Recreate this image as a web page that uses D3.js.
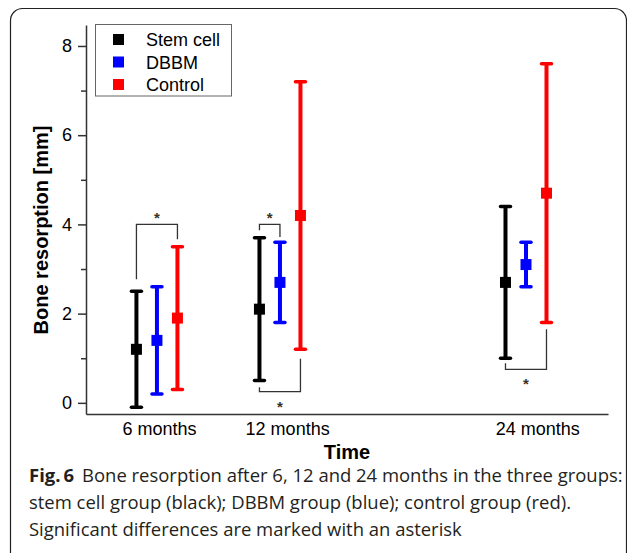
<!DOCTYPE html>
<html>
<head>
<meta charset="utf-8">
<script src="https://cdn.jsdelivr.net/npm/d3@7"></script>
<style>
  body { margin: 0; background: #fff; }
  svg { display: block; font-family: "Liberation Sans", Arial, sans-serif; }
</style>
</head>
<body>
<div id="chart"></div>
<script>
const width = 627, height = 553;

// data
const groups = ["Stem cell", "DBBM", "Control"];
const colors = ["#000000", "#0000ff", "#ff0000"];
const months = [6, 12, 24];
const xLabels = ["6 months", "12 months", "24 months"];
const xLabelAt = [6.1, 12.35, 24.55];

const stemMean = [1.2, 2.1, 2.7];
const stemLow  = [-0.1, 0.5, 1.0];
const stemHigh = [2.5, 3.7, 4.4];
const dbbmMean = [1.4, 2.7, 3.1];
const dbbmLow  = [0.2, 1.8, 2.6];
const dbbmHigh = [2.6, 3.6, 3.6];
const ctrlMean = [1.9, 4.2, 4.7];
const ctrlLow  = [0.3, 1.2, 1.8];
const ctrlHigh = [3.5, 7.2, 7.6];

const yTicks = [0, 2, 4, 6, 8];
const yMinor = [1, 3, 5, 7];

// significance brackets: month, group a, group b, bracket level, end values
const sigMonth = [6, 12, 12, 24];
const sigFrom  = [0, 0, 0, 0];
const sigTo    = [2, 1, 2, 2];
const sigLevel = [4.0, 4.0, 0.25, 0.75];
const sigEndA  = [2.77, 3.87, 0.35, 0.89];
const sigEndB  = [3.67, 3.72, 0.99, 1.65];

const series = [
  {mean: stemMean, low: stemLow, high: stemHigh},
  {mean: dbbmMean, low: dbbmLow, high: dbbmHigh},
  {mean: ctrlMean, low: ctrlLow, high: ctrlHigh}
];
const points = [];
series.forEach((s, gi) => months.forEach((m, mi) => points.push({
  g: groups[gi], gi, m, mean: s.mean[mi], low: s.low[mi], high: s.high[mi]
})));

const svg = d3.select("#chart").append("svg")
  .attr("width", width).attr("height", height)
  .attr("viewBox", [0, 0, width, height]);

// frame
svg.append("rect")
  .attr("x", 10.5).attr("y", 8.5).attr("width", 616).attr("height", 560)
  .attr("rx", 12).attr("fill", "none").attr("stroke", "#222").attr("stroke-width", 1.2);

const x = d3.scaleLinear().domain([2.54, 28]).range([86, 608]);
const y = d3.scaleLinear().domain([-0.25, 8.47]).range([414, 25]);
const off = d3.scalePoint().domain(groups).range([-1, 1]);
const px = d => x(d.m + off(d.g));

// y axis
const yAxis = svg.append("g").attr("transform", "translate(86,0)")
  .call(d3.axisLeft(y).tickValues(yTicks).tickSize(8).tickPadding(6).tickSizeOuter(0));
yAxis.append("g").call(d3.axisLeft(y).tickValues(yMinor).tickSize(5).tickFormat(""))
  .select(".domain").remove();
yAxis.selectAll("text").attr("font-size", 18).attr("fill", "#000").attr("font-family", null);
yAxis.selectAll("line, path").attr("stroke", "#333").attr("stroke-width", 1.5);

// x axis
const xAxis = svg.append("g").attr("transform", "translate(0,414)")
  .call(d3.axisBottom(x).tickValues(xLabelAt).tickFormat((d, i) => xLabels[i])
    .tickSize(0).tickPadding(8).tickSizeOuter(0));
xAxis.selectAll("text").attr("font-size", 18).attr("fill", "#000").attr("font-family", null);
xAxis.select(".domain").attr("stroke", "#333").attr("stroke-width", 1.5);

// axis titles
svg.append("text").attr("x", 347).attr("y", 458.5).attr("text-anchor", "middle")
  .attr("font-size", 20).attr("font-weight", "bold").text("Time");
svg.append("text").attr("transform", "translate(48,230) rotate(-90)")
  .attr("text-anchor", "middle").attr("font-size", 20).attr("font-weight", "bold")
  .text("Bone resorption [mm]");

// error bars
const bars = svg.append("g").selectAll("g").data(points).join("g")
  .attr("stroke", d => colors[d.gi]).attr("fill", d => colors[d.gi]);
bars.append("line")
  .attr("x1", px).attr("x2", px)
  .attr("y1", d => y(d.low)).attr("y2", d => y(d.high))
  .attr("stroke-width", 4);
bars.selectAll("line.cap").data(d => [[d, d.low], [d, d.high]]).join("line")
  .attr("class", "cap")
  .attr("x1", ([d]) => px(d) - 5).attr("x2", ([d]) => px(d) + 5)
  .attr("y1", ([, v]) => y(v)).attr("y2", ([, v]) => y(v))
  .attr("stroke-width", 3.5).attr("stroke-linecap", "round");
bars.append("rect")
  .attr("x", d => px(d) - 5.5).attr("y", d => y(d.mean) - 5.5)
  .attr("width", 11).attr("height", 11).attr("stroke", "none");

// significance brackets
const gx = (m, gi) => x(m + off(groups[gi]));
const sig = svg.append("g");
sigMonth.forEach((m, i) => {
  const xa = gx(m, sigFrom[i]), xb = gx(m, sigTo[i]);
  const yl = y(sigLevel[i]);
  sig.append("path")
    .attr("d", `M${xa},${y(sigEndA[i])}V${yl}H${xb}V${y(sigEndB[i])}`)
    .attr("fill", "none").attr("stroke", "#333").attr("stroke-width", 1.3);
  const above = sigLevel[i] > sigEndA[i];
  sig.append("text")
    .attr("x", (xa + xb) / 2).attr("y", above ? yl - 1 : yl + 20)
    .attr("text-anchor", "middle").attr("font-size", 15).attr("font-weight", "bold")
    .attr("fill", "#3a3325")
    .text("*");
});

// legend
const legend = svg.append("g");
legend.append("rect").attr("x", 95.5).attr("y", 24.5).attr("width", 136).attr("height", 71.5)
  .attr("fill", "#fff").attr("stroke", "#666").attr("stroke-width", 1);
const li = legend.selectAll("g").data(groups).join("g")
  .attr("transform", (d, i) => `translate(0,${39.5 + i * 22.5})`);
li.append("rect").attr("x", 113).attr("y", -5.5).attr("width", 11).attr("height", 11)
  .attr("fill", (d, i) => colors[i]);
li.append("text").attr("x", 146).attr("y", 6.5).attr("font-size", 18).text(d => d);

// caption
const capLines = [
  "Bone resorption after 6, 12 and 24 months in the three groups:",
  "stem cell group (black); DBBM group (blue); control group (red).",
  "Significant differences are marked with an asterisk"
];
const cap = svg.append("g").attr("font-family", "'Open Sans', sans-serif").attr("fill", "#231f20");
const first = cap.append("text").attr("x", 29).attr("y", 482).attr("font-size", 17);
first.append("tspan").attr("font-weight", "bold").text("Fig.\u20096");
first.append("tspan").attr("dx", 8).text(capLines[0]);
cap.append("text").attr("x", 29).attr("y", 509).attr("font-size", 17).text(capLines[1]);
cap.append("text").attr("x", 29).attr("y", 536).attr("font-size", 17).text(capLines[2]);
// fit caption width to the figure's text block
const w0 = first.node().getComputedTextLength();
const fs = 17 * 586 / w0;
cap.selectAll("text").attr("font-size", fs);
</script>
</body>
</html>
